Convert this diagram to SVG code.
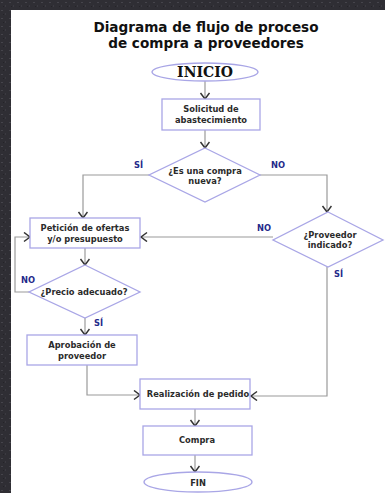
<svg xmlns="http://www.w3.org/2000/svg" width="385" height="493" viewBox="0 0 385 493">
<style>
.shape{fill:#fff;stroke:#a9a6e6;stroke-width:1.3}
.line{fill:none;stroke:#9a9a9a;stroke-width:1.2}
.t{font-family:"DejaVu Sans",Verdana,sans-serif;font-weight:bold;fill:#2b2b2b;text-anchor:middle;font-size:8.3px}
.lbl{font-family:"DejaVu Sans",Verdana,sans-serif;font-weight:bold;fill:#1f2a8a;font-size:8.3px}
.title{font-family:"DejaVu Sans",Verdana,sans-serif;font-weight:bold;fill:#111;text-anchor:middle;font-size:13.6px}
</style>
<defs>
<marker id="arr" markerUnits="userSpaceOnUse" markerWidth="12" markerHeight="12" refX="9" refY="5" orient="auto">
<path d="M3,0.5 L9,5 L3,9.5" fill="none" stroke="#333" stroke-width="1.5"/>
</marker>
<pattern id="granite" width="8" height="8" patternUnits="userSpaceOnUse">
<rect width="8" height="8" fill="#2f2e34"/>
<rect x="1" y="2" width="2" height="1" fill="#45444b"/>
<rect x="5" y="5" width="1" height="2" fill="#3b3a41"/>
<rect x="3" y="6" width="1" height="1" fill="#242328"/>
</pattern>
</defs>
<rect width="385" height="493" fill="url(#granite)"/>
<rect x="11" y="10" width="374" height="483" fill="#fff"/>
<text class="title" x="206" y="32">Diagrama de flujo de proceso</text>
<text class="title" x="206" y="48">de compra a proveedores</text>
<g id="connectors">
<line class="line" x1="205" y1="81" x2="205" y2="99" marker-end="url(#arr)"/>
<line class="line" x1="205" y1="130" x2="205" y2="148" marker-end="url(#arr)"/>
<polyline class="line" points="149,175 83,175 83,218" marker-end="url(#arr)"/>
<polyline class="line" points="260,175 327,175 327,212" marker-end="url(#arr)"/>
<line class="line" x1="273" y1="237" x2="141" y2="237" marker-end="url(#arr)"/>
<line class="line" x1="85" y1="248" x2="85" y2="265" marker-end="url(#arr)"/>
<polyline class="line" points="29,292 15,292 15,237 30,237" marker-end="url(#arr)"/>
<line class="line" x1="85" y1="318" x2="85" y2="335" marker-end="url(#arr)"/>
<polyline class="line" points="87,365 87,395 140,395" marker-end="url(#arr)"/>
<polyline class="line" points="327,267 327,396 251,396" marker-end="url(#arr)"/>
<line class="line" x1="195" y1="409" x2="195" y2="426" marker-end="url(#arr)"/>
<line class="line" x1="195" y1="455" x2="195" y2="472" marker-end="url(#arr)"/>
<text class="lbl" x="134" y="168">SÍ</text>
<text class="lbl" x="271" y="168">NO</text>
<text class="lbl" x="257" y="231">NO</text>
<text class="lbl" x="334" y="277">SÍ</text>
<text class="lbl" x="21" y="283">NO</text>
<text class="lbl" x="94" y="326">SÍ</text>
</g>
<g id="inicio">
<ellipse class="shape" cx="205" cy="72" rx="53" ry="9"/>
<text class="t" x="205" y="77" style="font-size:14px;fill:#111;font-family:'DejaVu Serif',serif">INICIO</text>
</g>
<g id="solicitud">
<rect class="shape" x="162" y="99" width="98" height="31"/>
<text class="t" x="211" y="112">Solicitud de</text>
<text class="t" x="211" y="123">abastecimiento</text>
</g>
<g id="compra-nueva">
<polygon class="shape" points="205,148 260,175 205,202 149,175"/>
<text class="t" x="205" y="174">¿Es una compra</text>
<text class="t" x="205" y="184">nueva?</text>
</g>
<g id="peticion">
<rect class="shape" x="30" y="218" width="110" height="30"/>
<text class="t" x="85" y="231">Petición de ofertas</text>
<text class="t" x="85" y="242">y/o presupuesto</text>
</g>
<g id="proveedor-indicado">
<polygon class="shape" points="328,212 383,240 328,267 273,240"/>
<text class="t" x="330" y="238">¿Proveedor</text>
<text class="t" x="330" y="248">indicado?</text>
</g>
<g id="precio">
<polygon class="shape" points="85,265 140,292 85,318 29,292"/>
<text class="t" x="84" y="295">¿Precio adecuado?</text>
</g>
<g id="aprobacion">
<rect class="shape" x="27" y="335" width="110" height="30"/>
<text class="t" x="82" y="348">Aprobación de</text>
<text class="t" x="82" y="359">proveedor</text>
</g>
<g id="realizacion">
<rect class="shape" x="140" y="379" width="110" height="30"/>
<text class="t" x="198" y="397">Realización de pedido</text>
</g>
<g id="compra">
<rect class="shape" x="143" y="426" width="109" height="29"/>
<text class="t" x="197" y="443">Compra</text>
</g>
<g id="fin">
<ellipse class="shape" cx="198" cy="482" rx="54" ry="10"/>
<text class="t" x="198" y="486">FIN</text>
</g>
</svg>
